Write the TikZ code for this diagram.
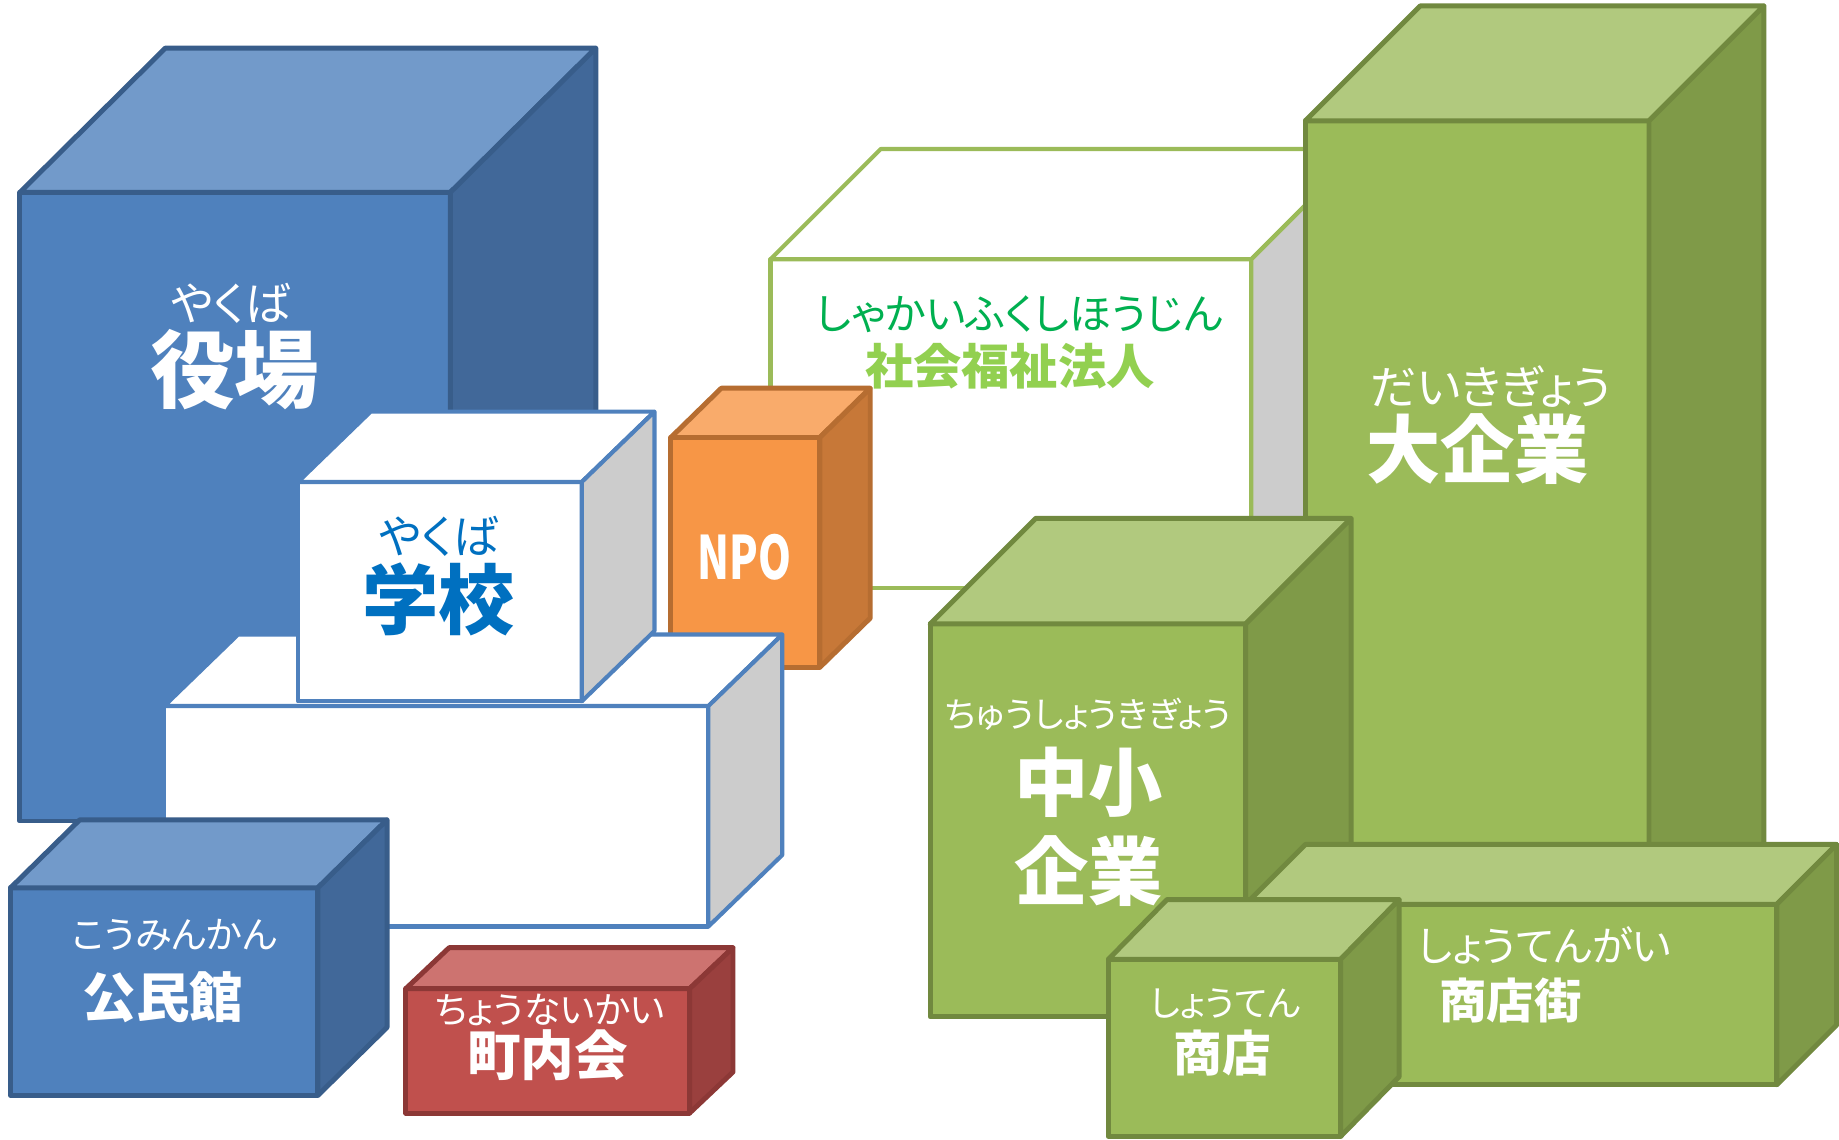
\documentclass[tikz,border=0pt]{standalone}
\usepackage{fontspec}
\newfontfamily\jp{Noto Sans CJK JP}
\newfontfamily\jpk{Noto Sans CJK JP}[RawFeature=+palt]

\definecolor{bluF}{HTML}{4F81BD}
\definecolor{bluT}{HTML}{729ACA}
\definecolor{bluS}{HTML}{416899}
\definecolor{bluL}{HTML}{385D8A}
\definecolor{grnF}{HTML}{9BBB59}
\definecolor{grnT}{HTML}{B1C97E}
\definecolor{grnS}{HTML}{7F9A48}
\definecolor{grnL}{HTML}{71893F}
\definecolor{orgF}{HTML}{F79646}
\definecolor{orgT}{HTML}{F9AB6B}
\definecolor{orgS}{HTML}{C77838}
\definecolor{orgL}{HTML}{B66D31}
\definecolor{redF}{HTML}{C0504D}
\definecolor{redT}{HTML}{CD7370}
\definecolor{redS}{HTML}{9A403E}
\definecolor{redL}{HTML}{8C3836}
\definecolor{wblF}{HTML}{FFFFFF}
\definecolor{wblT}{HTML}{FFFFFF}
\definecolor{wblS}{HTML}{CCCCCC}
\definecolor{wblL}{HTML}{4F81BD}
\definecolor{wgrF}{HTML}{FFFFFF}
\definecolor{wgrT}{HTML}{FFFFFF}
\definecolor{wgrS}{HTML}{CCCCCC}
\definecolor{wgrL}{HTML}{9BBB59}
\definecolor{schoolblue}{HTML}{0070C0}
\definecolor{kanagreen}{HTML}{00B050}
\definecolor{kanjigreen}{HTML}{92D050}

\tikzset{
  bluline/.style={draw=bluL, line width=1.2pt},
  grnline/.style={draw=grnL, line width=1.2pt},
  orgline/.style={draw=orgL, line width=1.2pt},
  redline/.style={draw=redL, line width=1.2pt},
  wblline/.style={draw=wblL, line width=1pt},
  wgrline/.style={draw=wgrL, line width=1pt},
  lbl/.style={inner sep=0pt, text=white},
  kana/.style={lbl, font=\jpk\fontsize{#1}{#1}\selectfont},
  kanji/.style={lbl, font=\jp\bfseries\fontsize{#1}{#1}\selectfont},
}

% front x1 y1 x2 y2, depth dx dy, colour set
\newcommand{\drawblock}[7]{%
  \filldraw[#7line, fill=#7F] (#1,#2) rectangle (#3,#4);
  \filldraw[#7line, fill=#7T] (#1,#2) -- ++(#5,#6) -- ++({#3-#1},0) -- (#3,#2) -- cycle;
  \filldraw[#7line, fill=#7S] (#3,#2) -- ++(#5,#6) -- ++(0,{#4-#2}) -- (#3,#4) -- cycle;
}

\begin{document}
\begin{tikzpicture}[x=0.01cm, y=-0.01cm, line join=round]
  \useasboundingbox (0,0) rectangle (1568,972);

  % green side
  \drawblock{657}{221}{1067}{501}{94}{-94}{wgr}
  \drawblock{1113}{103}{1406}{850}{98}{-98}{grn}
  \drawblock{793}{532}{1062}{867}{90}{-90}{grn}
  \drawblock{1062}{771}{1515}{925}{51}{-51}{grn}
  \drawblock{945}{818}{1143}{969}{50}{-51}{grn}

  % blue side
  \drawblock{17}{164}{384}{700}{124}{-123}{blu}
  \drawblock{572}{373}{699}{569}{43}{-42}{org}
  \drawblock{140}{602}{604}{790}{63}{-61}{wbl}
  \drawblock{254}{411}{496}{598}{62}{-60}{wbl}
  \drawblock{9}{757}{271}{934}{59}{-58}{blu}
  \drawblock{346}{843}{588}{949}{37}{-35}{red}

  % labels
  \node[kana=11pt] (yakubaR) at (197,259) {やくば};
  \node[kanji=20.5pt] (yakuba) at (200,315) {役場};
  \node[kana=11pt, text=schoolblue] (gakkouR) at (374,457) {やくば};
  \node[kanji=18.5pt, text=schoolblue] (gakkou) at (374,511) {学校};
  \node[kana=9pt] (kominkanR) at (149,797) {こうみんかん};
  \node[kanji=13pt] (kominkan) at (139,850) {公民館};
  \node[kana=8.9pt] (chonaikaiR) at (469,861) {ちょうないかい};
  \node[kanji=13pt] (chonaikai) at (467,900) {町内会};
  \node[kanji=14.5pt] (npo) at (635,475) {\scalebox{0.7}[1]{NPO}};
  \node[kana=10.2pt, text=kanagreen] (fukushiR) at (869,268) {しゃかいふくしほうじん};
  \node[kanji=11.7pt, text=kanjigreen] (fukushi) at (861,312) {社会福祉法人};
  \node[kana=11.2pt] (daikigyoR) at (1271,330) {だいきぎょう};
  \node[kanji=18pt] (daikigyo) at (1260,383) {大企業};
  \node[kana=8.5pt] (chushoR) at (928,609) {ちゅうしょうきぎょう};
  \node[kanji=18pt] (chusho) at (928,667) {中小};
  \node[kanji=18pt] (kigyo) at (928,743) {企業};
  \node[kana=10pt] (shotengaiR) at (1317,806) {しょうてんがい};
  \node[kanji=11.5pt] (shotengai) at (1288,853) {商店街};
  \node[kana=8.6pt] (shotenR) at (1045,856) {しょうてん};
  \node[kanji=11.8pt] (shoten) at (1042,898) {商店};
\end{tikzpicture}
\end{document}
